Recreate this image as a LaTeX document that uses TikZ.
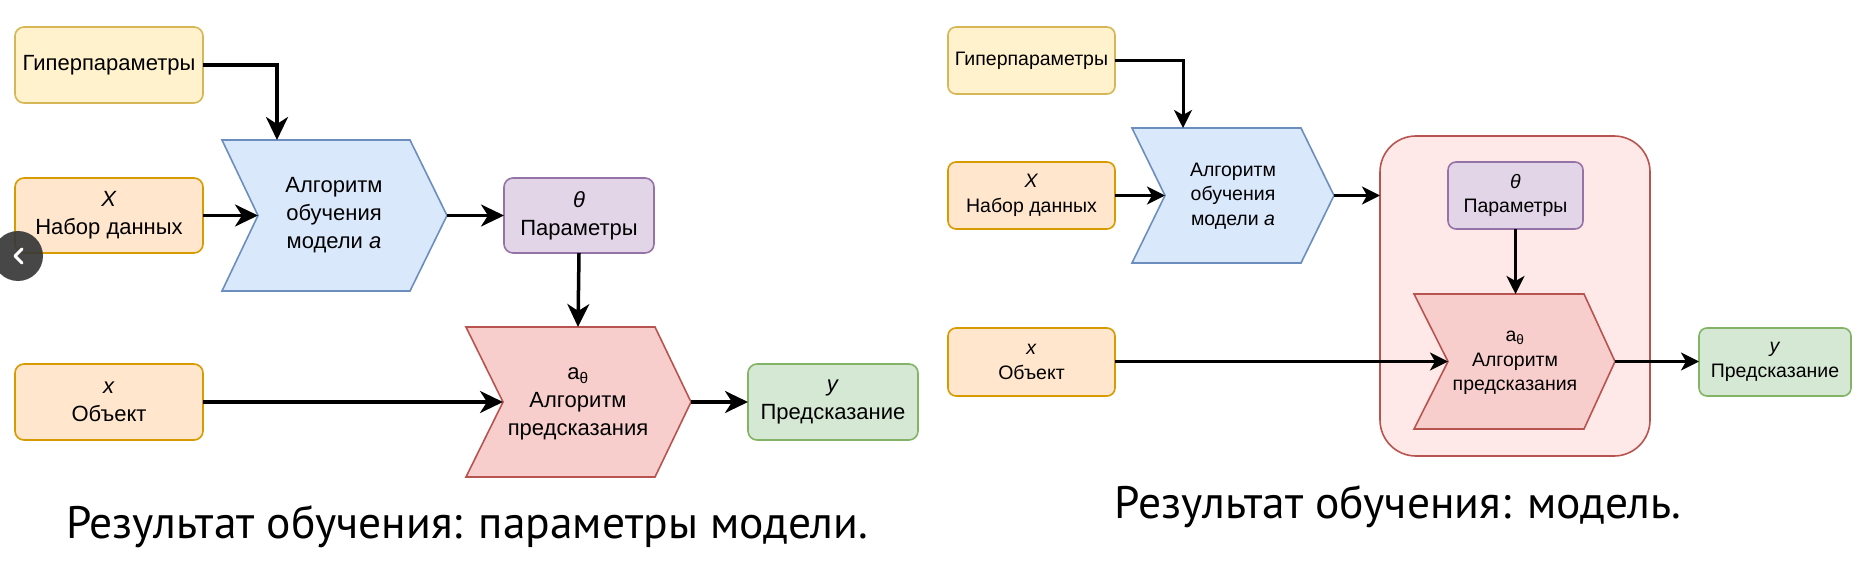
\documentclass[tikz,border=0pt]{standalone}
\usepackage{fontspec}
\setmainfont{Liberation Sans}
\newfontfamily\capfont{PT Sans}
\usetikzlibrary{arrows.meta}
\definecolor{yfill}{HTML}{FFF2CC}\definecolor{ydraw}{HTML}{D6B656}
\definecolor{ofill}{HTML}{FFE6CC}\definecolor{odraw}{HTML}{D79B00}
\definecolor{bfill}{HTML}{DAE8FC}\definecolor{bdraw}{HTML}{6C8EBF}
\definecolor{pfill}{HTML}{E1D5E7}\definecolor{pdraw}{HTML}{9673A6}
\definecolor{rfill}{HTML}{F8CECC}\definecolor{rdraw}{HTML}{B85450}
\definecolor{gfill}{HTML}{D5E8D4}\definecolor{gdraw}{HTML}{82B366}
\definecolor{cfill}{HTML}{FFE9E8}
\tikzset{
  bx/.style={draw, line width=1.6pt, rounded corners=9pt, inner sep=0pt, outer sep=0pt, align=center},
  bigtxt/.style={font=\fontsize{22}{28}\selectfont},
  smalltxt/.style={font=\fontsize{19.5}{24.5}\selectfont},
  ybox/.style={bx, fill=yfill, draw=ydraw},
  obox/.style={bx, fill=ofill, draw=odraw},
  pbox/.style={bx, fill=pfill, draw=pdraw},
  gbox/.style={bx, fill=gfill, draw=gdraw},
  bchev/.style={fill=bfill, draw=bdraw, line width=1.6pt, line join=miter},
  rchev/.style={fill=rfill, draw=rdraw, line width=1.6pt, line join=miter},
  txt/.style={inner sep=0pt, align=center},
  arrA/.style={line width=3.5pt, -{Stealth[length=23pt,width=22pt,inset=7pt]}},
  arrB/.style={line width=3pt, -{Stealth[length=18pt,width=18pt,inset=5pt]}},
  caption/.style={font=\capfont\fontsize{45.5}{52}\selectfont, inner sep=0pt, anchor=base},
}
\begin{document}
\begin{tikzpicture}[x=1pt,y=-1pt]
\fill[white] (0,0) rectangle (1858,580);
\useasboundingbox (0,0) rectangle (1858,580);

% ---------------- left diagram ----------------
\node[ybox, bigtxt, minimum width=188pt, minimum height=76pt] (hyp1) at (109,65) {Гиперпараметры};
\node[obox, bigtxt, minimum width=188pt, minimum height=75pt] (X1) at (109,215.5) {\textit{X}\\Набор данных};
\node[obox, bigtxt, minimum width=188pt, minimum height=76pt] (x1) at (109,402) {\textit{x}\\Объект};
\node[pbox, bigtxt, minimum width=150pt, minimum height=75pt] (th1) at (579,215.5) {\textit{θ}\\Параметры};
\node[gbox, bigtxt, minimum width=170pt, minimum height=76pt] (y1) at (833,402) {\textit{y}\\Предсказание};

\draw[bchev] (222,140) -- (410,140) -- (447,215.5) -- (410,291) -- (222,291) -- (258,215.5) -- cycle;
\coordinate (alg1n) at (258,215.5);
\coordinate (alg1t) at (447,215.5);
\coordinate (alg1top) at (277,140);
\node[txt, bigtxt] (alg1) at (334,215.5) {Алгоритм\\обучения\\модели \textit{a}};

\draw[rchev] (466,327) -- (655,327) -- (691,402) -- (655,477) -- (466,477) -- (503,402) -- cycle;
\coordinate (pred1n) at (503,402);
\coordinate (pred1t) at (691,402);
\coordinate (pred1top) at (578,327);
\node[txt, bigtxt] (pred1) at (578,404) {a\textsubscript{θ}\\Алгоритм\\предсказания};

\draw[arrA] (hyp1.east) -| (alg1top);
\draw[arrA] (X1.east) -- (alg1n);
\draw[arrA] (alg1t) -- (th1.west);
\draw[arrA] (th1.south) -- (pred1top);
\draw[arrA] (x1.east) -- (pred1n);
\draw[arrA] (pred1t) -- (y1.west);

\node[caption] (cap1) at (467,538) {Результат обучения: параметры модели.};

% ---------------- right diagram ----------------
\node[ybox, smalltxt, minimum width=167pt, minimum height=67pt, rounded corners=8pt] (hyp2) at (1031.5,60.5) {Гиперпараметры};
\node[obox, smalltxt, minimum width=167pt, minimum height=67pt, rounded corners=8pt] (X2) at (1031.5,195.5) {\textit{X}\\Набор данных};
\node[obox, smalltxt, minimum width=167pt, minimum height=68pt, rounded corners=8pt] (x2) at (1031.5,362) {\textit{x}\\Объект};

\draw[bchev] (1132,128) -- (1301,128) -- (1334,195.5) -- (1301,263) -- (1132,263) -- (1165,195.5) -- cycle;
\coordinate (alg2n) at (1165,195.5);
\coordinate (alg2t) at (1334,195.5);
\coordinate (alg2top) at (1183,128);
\node[txt, smalltxt] (alg2) at (1233,196) {Алгоритм\\обучения\\модели \textit{a}};

\node[draw=rdraw, fill=cfill, line width=1.6pt, rounded corners=36pt, minimum width=270pt, minimum height=320pt, inner sep=0pt, outer sep=0pt] (cont) at (1515,296) {};

\node[pbox, smalltxt, minimum width=135pt, minimum height=67pt, rounded corners=8pt] (th2) at (1515.5,195.5) {\textit{θ}\\Параметры};

\draw[rchev] (1414,294) -- (1584,294) -- (1615,361.5) -- (1584,429) -- (1414,429) -- (1448,361.5) -- cycle;
\coordinate (pred2n) at (1448,361.5);
\coordinate (pred2t) at (1615,361.5);
\coordinate (pred2top) at (1515.5,294);
\node[txt, smalltxt] (pred2) at (1515,363) {a\textsubscript{θ}\\Алгоритм\\предсказания};

\node[gbox, smalltxt, minimum width=152pt, minimum height=68pt, rounded corners=8pt] (y2) at (1775,362) {\textit{y}\\Предсказание};

\draw[arrB] (hyp2.east) -| (alg2top);
\draw[arrB] (X2.east) -- (alg2n);
\draw[arrB] (alg2t) -- (cont.west |- alg2t);
\draw[arrB] (th2.south) -- (pred2top);
\draw[arrB] (x2.east |- pred2n) -- (pred2n);
\draw[arrB] (pred2t) -- (y2.west |- pred2t);

\node[caption] (cap2) at (1398,518) {Результат обучения: модель.};

% carousel button overlay
\fill[black!78, opacity=0.92] (18,256) circle (25);
\draw[white, line width=3pt, line cap=round, line join=round] (22,249) -- (15,256) -- (22,263);
\end{tikzpicture}
\end{document}
